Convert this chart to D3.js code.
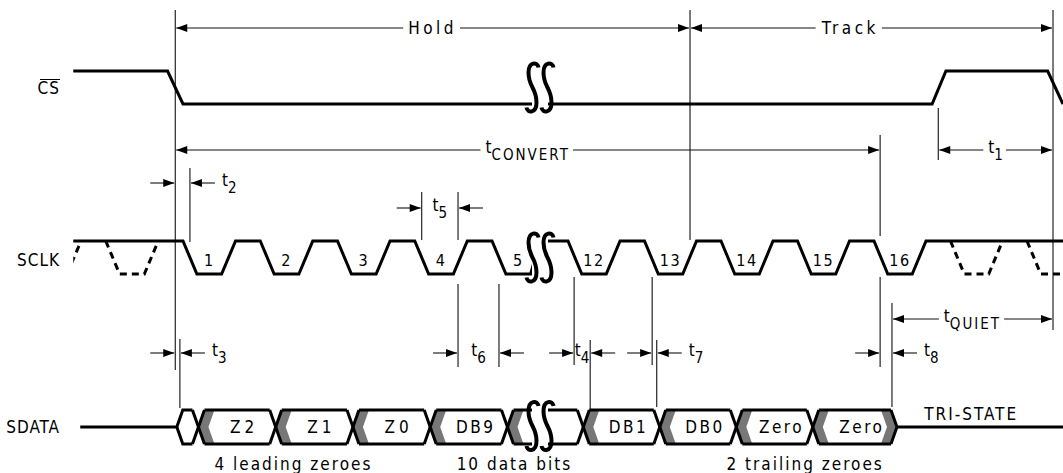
<!DOCTYPE html>
<html>
<head>
<meta charset="utf-8">
<script src="https://cdn.jsdelivr.net/npm/d3@7"></script>
<style>
body{margin:0;background:#fff;}
svg text{font-family:"Liberation Sans Narrow","DejaVu Sans Condensed","Liberation Sans",sans-serif;fill:#000;}
</style>
</head>
<body>
<div id="plotdiv"></div>
<script>
// all times are in SCLK periods: falling edge of clock k is at t = k
var csEdges = [[-0.42,1],[0.8,1],[1.0,0],[16.76,0],[16.94,1],[18.27,1],[18.47,0]];
var clockCycles = [1,2,3,4,5,12,13,14,15,16];
var clockLabels = ["1","2","3","4","5","12","13","14","15","16"];
var optionalCycles = [-1,0,17,18];
var dataStarts = [1.2,2.2,3.2,4.2,5.2,12.2,13.2,14.2,15.2];
var dataLabels = ["Z2","Z1","Z0","DB9","","DB1","DB0","Zero","Zero"];
var sdataIdle = -0.33, sdataOpen = 0.92, sdataEnd = 16.3;
var groupLabels = ["4 leading zeroes","10 data bits","2 trailing zeroes"];
var groupAt = [2.43, 5.29, 15.1];
var triStateAt = 17.27;

var spanNames = ["Hold","Track","CONVERT","1","QUIET"];
var spanIsT = [false,false,true,true,true];
var spanFrom = [0.9, 13.595, 0.9, 16.84, 16.235];
var spanTo = [13.595, 18.34, 16.08, 18.34, 18.34];
var spanLabelAt = [null, 15.69, null, null, null];

var gapNames = ["2","5","3","6","4","7","8"];
var gapFrom = [0.9, 4.09, 0.9, 4.56, 12.08, 13.10, 16.08];
var gapTo = [1.09, 4.56, 0.96, 5.09, 12.29, 13.16, 16.235];

var guideTimes = [0.9,0.96,1.09,4.09,4.56,5.09,12.08,12.29,13.10,13.16,13.595,16.08,16.235,16.84,18.34];

// layout
var width = 1063, height = 473;
var breakT = 5.621;
var x = d3.scaleLinear().domain([-0.5, breakT, 11.634, 18.6]).range([67.1, 540, 540, 1072.9]);
var yCS = d3.scaleLinear().domain([0,1]).range([104,71]);
var yCK = d3.scaleLinear().domain([0,1]).range([274,241]);
var sdTop = 410, sdMid = 427, sdBot = 444;
var spanRows = [28,28,150,150,319];
var gapRows = [183,208,353,353,353,353,353];
var gapPlace = ["after","mid","after","mid","mid","after","after"];
var guideSegs = [[[10,370]],[[339,408]],[[168,242]],[[192,240]],[[192,240],[284,367]],[[284,367]],
	[[277,365]],[[340,410]],[[277,365]],[[340,407]],[[10,240]],[[135,236],[277,367]],[[303,407]],[[108,160]],[[10,330]]];
var fall = 0.18, lowEnd = 0.5, riseEnd = 0.68;
var thick = 3, thin = 1.1, fs = 17;

var svg = d3.select("#plotdiv").append("svg")
	.attr("width",width)
	.attr("height",height)
	.style("display","block");

var defs = svg.append("defs");
defs.append("clipPath").attr("id","ckclip").append("rect")
	.attr("x",x(-0.42)).attr("y",0).attr("width",width-x(-0.42)).attr("height",height);

var line = d3.line();

function arrowHead(g, xt, y, dir)
{
	g.append("path")
		.attr("d","M"+xt+","+y+"L"+(xt-dir*11)+","+(y-4)+"L"+(xt-dir*11)+","+(y+4)+"Z")
		.attr("fill","#000");
}

function tLabel(g, xx, y, sub, anchor)
{
	var t = g.append("text").attr("x",xx).attr("y",y+3)
		.attr("text-anchor",anchor).style("font-size",fs+"px");
	t.append("tspan").text("t");
	t.append("tspan").attr("dy",7).style("font-size","15px")
		.style("letter-spacing",sub.length>1?"2px":"0px").text(sub);
	return t;
}

// guide lines
var gg = svg.append("g");
guideTimes.forEach(function(t,i){
	guideSegs[i].forEach(function(s){
		gg.append("line")
			.attr("x1",x(t)).attr("x2",x(t))
			.attr("y1",s[0]).attr("y2",s[1])
			.attr("stroke","#111").attr("stroke-width",thin);
	});
});

// span arrows |<-- label -->|
var sg = svg.append("g");
spanNames.forEach(function(name,i){
	var x1 = x(spanFrom[i])+1, x2 = x(spanTo[i])-1, y = spanRows[i];
	sg.append("line").attr("x1",x1).attr("x2",x2).attr("y1",y).attr("y2",y)
		.attr("stroke","#111").attr("stroke-width",thin);
	arrowHead(sg,x1,y,-1);
	arrowHead(sg,x2,y,1);
	var cx = spanLabelAt[i]==null ? (x1+x2)/2 : x(spanLabelAt[i]);
	var lbl;
	if(spanIsT[i]){
		lbl = tLabel(sg,cx,y,name,"middle");
	}
	else{
		lbl = sg.append("text").attr("x",cx).attr("y",y+6)
			.attr("text-anchor","middle").style("font-size",fs+"px")
			.style("letter-spacing","3.5px").text(name);
	}
	var bb = lbl.node().getBBox();
	sg.insert("rect",function(){return lbl.node();})
		.attr("x",bb.x-5).attr("y",y-3).attr("width",bb.width+8).attr("height",6)
		.attr("fill","#fff");
});

// gap arrows -->| |<--
var tg = svg.append("g");
gapNames.forEach(function(name,i){
	var x1 = x(gapFrom[i]), x2 = x(gapTo[i]), y = gapRows[i];
	tg.append("line").attr("x1",x1-25).attr("x2",x1-1).attr("y1",y).attr("y2",y)
		.attr("stroke","#111").attr("stroke-width",thin);
	arrowHead(tg,x1-1,y,1);
	tg.append("line").attr("x1",x2+1).attr("x2",x2+25).attr("y1",y).attr("y2",y)
		.attr("stroke","#111").attr("stroke-width",thin);
	arrowHead(tg,x2+1,y,-1);
	if(gapPlace[i]=="after") tLabel(tg,x2+32,y,name,"start");
	else tLabel(tg,(x1+x2)/2,y,name,"middle");
});

// CS
var wg = svg.append("g").attr("fill","none").attr("stroke","#000")
	.attr("stroke-width",thick).attr("stroke-linejoin","miter");
wg.append("path").attr("d",line(csEdges.map(function(d){return [x(d[0]),yCS(d[1])];})));

// SCLK solid
var ckPts = [[-0.42,1]];
clockCycles.forEach(function(k){
	ckPts.push([k,1],[k+fall,0],[k+lowEnd,0],[k+riseEnd,1]);
});
ckPts.push([18.6,1]);
wg.append("path").attr("d",line(ckPts.map(function(d){return [x(d[0]),yCK(d[1])];})));

// SCLK optional cycles, dashed
optionalCycles.forEach(function(k){
	var p = [[k,1],[k+fall,0],[k+lowEnd,0],[k+riseEnd,1]];
	wg.append("path")
		.attr("d",line(p.map(function(d){return [x(d[0]),yCK(d[1])];})))
		.attr("stroke-dasharray","7,5")
		.attr("clip-path","url(#ckclip)");
});

// SDATA
var dg = svg.append("g");
var hw = 6, band = 10;
var xo = x(sdataOpen), xe = x(sdataEnd);
var ends = dataStarts.map(function(t,i){return i<dataStarts.length-1 ? x(dataStarts[i+1])-hw : xe-hw;});

// shaded bands
dataStarts.forEach(function(t){
	var c = x(t);
	dg.append("path")
		.attr("d","M"+c+","+sdMid+"L"+(c+hw)+","+sdTop+"L"+(c+hw+band)+","+sdTop+"L"+(c+band)+","+sdMid+
			"L"+(c+hw+band)+","+sdBot+"L"+(c+hw)+","+sdBot+"Z")
		.attr("fill","#777");
});
dg.append("path")
	.attr("d","M"+(xe-hw-band)+","+sdTop+"L"+(xe-band)+","+sdMid+"L"+(xe-hw-band)+","+sdBot+
		"L"+(xe-hw)+","+sdBot+"L"+xe+","+sdMid+"L"+(xe-hw)+","+sdTop+"Z")
	.attr("fill","#777");

var sd = dg.append("g").attr("fill","none").attr("stroke","#000").attr("stroke-width",thick);
var firstL = x(dataStarts[0])-hw;
sd.append("path").attr("d",line([[x(sdataIdle),sdMid],[xo,sdMid],[xo+hw,sdTop],[firstL,sdTop]]));
sd.append("path").attr("d",line([[xo,sdMid],[xo+hw,sdBot],[firstL,sdBot]]));
dataStarts.forEach(function(t,i){
	var c = x(t);
	sd.append("path").attr("d",line([[c-hw,sdTop],[c+hw,sdBot]]));
	sd.append("path").attr("d",line([[c-hw,sdBot],[c+hw,sdTop]]));
	sd.append("path").attr("d",line([[c+hw,sdTop],[ends[i],sdTop]]));
	sd.append("path").attr("d",line([[c+hw,sdBot],[ends[i],sdBot]]));
});
sd.append("path").attr("d",line([[xe-hw,sdTop],[xe,sdMid],[xe-hw,sdBot]]));
sd.append("path").attr("d",line([[xe,sdMid],[x(18.6),sdMid]]));

dataStarts.forEach(function(t,i){
	if(!dataLabels[i]) return;
	dg.append("text")
		.attr("x",(x(t)+hw+band+ends[i])/2+2)
		.attr("y",sdMid+6)
		.attr("text-anchor","middle")
		.style("font-size",fs+"px")
		.style("letter-spacing",dataLabels[i].length==2?"4px":"2.5px")
		.text(dataLabels[i]);
});

// break symbols
function breakMark(cy)
{
	var bx = x(breakT), h = 50;
	svg.append("rect").attr("x",bx-8).attr("y",cy-h/2+2).attr("width",16).attr("height",h-4)
		.attr("fill","#fff");
	[bx-7.5,bx+7.5].forEach(function(cx){
		var top = cy-h/2, bot = cy+h/2;
		svg.append("path")
			.attr("d","M"+(cx+6)+","+(top+5)+
				"C"+(cx+5)+","+(top-1)+" "+(cx-4)+","+(top-1)+" "+(cx-4)+","+(top+10)+
				"C"+(cx-4)+","+cy+" "+(cx+4)+","+cy+" "+(cx+4)+","+(bot-10)+
				"C"+(cx+4)+","+(bot+1)+" "+(cx-5)+","+(bot+1)+" "+(cx-6)+","+(bot-5))
			.attr("fill","none").attr("stroke","#000").attr("stroke-width",4);
	});
}
breakMark((yCS(0)+yCS(1))/2);
breakMark((yCK(0)+yCK(1))/2);
breakMark(sdMid-1);

// clock numbers
var lg = svg.append("g");
clockCycles.forEach(function(k,i){
	lg.append("text")
		.attr("x",x(k+(fall+lowEnd)/2))
		.attr("y",yCK(0)-8)
		.attr("text-anchor","middle")
		.style("font-size","16px")
		.style("letter-spacing","1.5px")
		.text(clockLabels[i]);
});

// group captions
groupLabels.forEach(function(s,i){
	lg.append("text").attr("x",x(groupAt[i])).attr("y",470)
		.attr("text-anchor","middle")
		.style("font-size",fs+"px")
		.style("letter-spacing","2px")
		.text(s);
});
lg.append("text").attr("x",x(triStateAt)).attr("y",sdTop+10)
	.attr("text-anchor","middle").style("font-size",fs+"px")
	.style("letter-spacing","2px").text("TRI-STATE");

// signal names
lg.append("text").attr("x",60).attr("y",94).attr("text-anchor","end")
	.style("font-size",fs+"px").style("letter-spacing","1px").text("CS");
lg.append("line").attr("x1",40).attr("x2",60).attr("y1",79.5).attr("y2",79.5)
	.attr("stroke","#000").attr("stroke-width",1);
lg.append("text").attr("x",60).attr("y",266).attr("text-anchor","end")
	.style("font-size",fs+"px").style("letter-spacing","1px").text("SCLK");
lg.append("text").attr("x",60).attr("y",433).attr("text-anchor","end")
	.style("font-size",fs+"px").style("letter-spacing","1px").text("SDATA");
</script>
</body>
</html>
